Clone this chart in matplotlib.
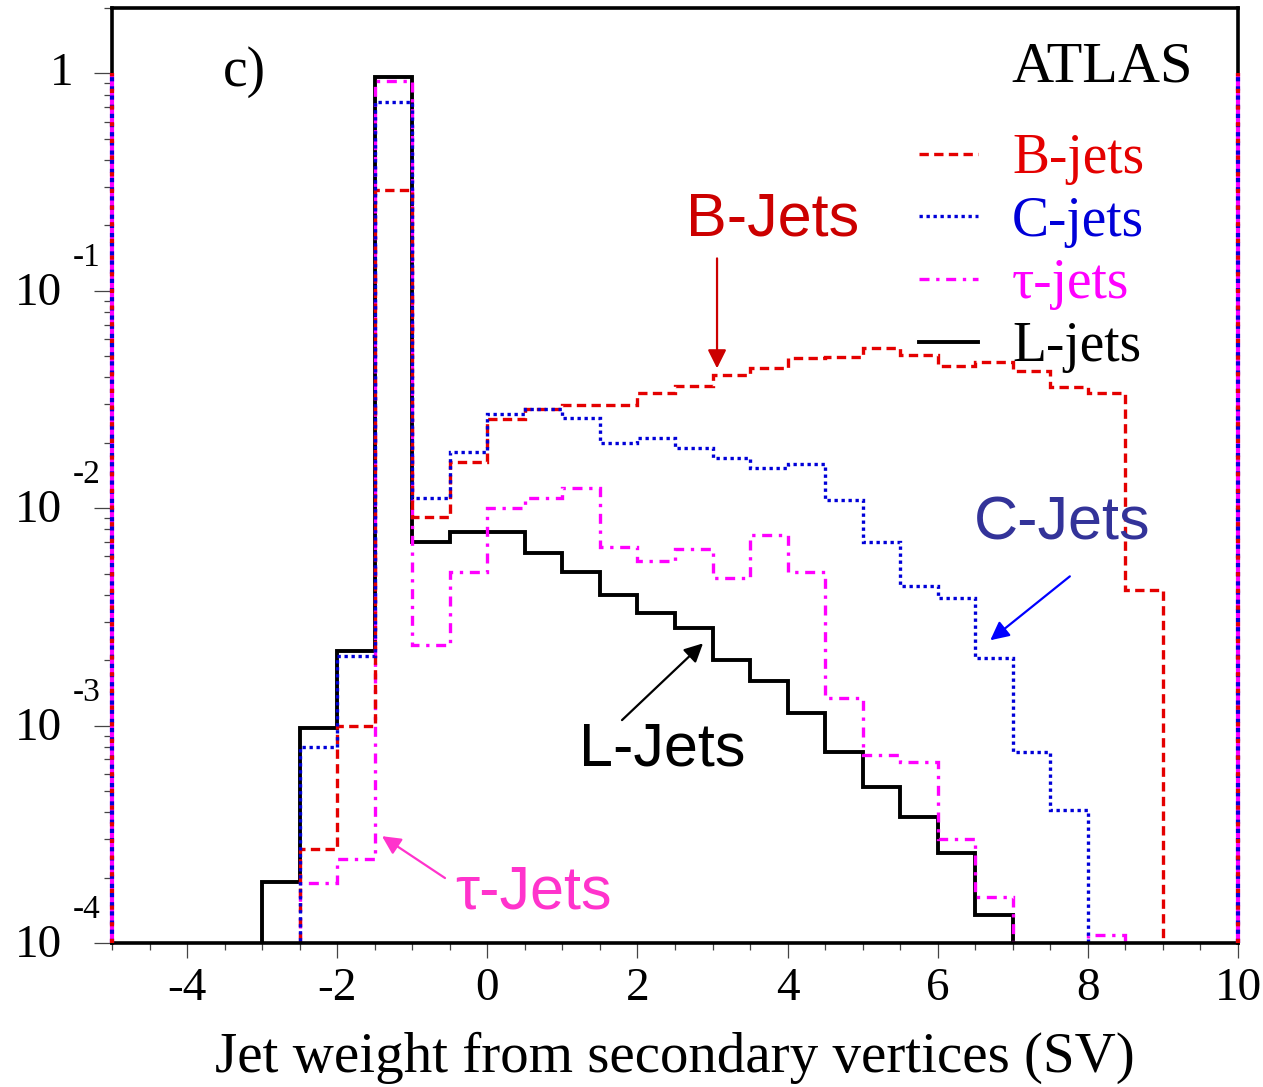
import matplotlib
matplotlib.use("Agg")
import matplotlib.pyplot as plt
import numpy as np

# SV jet weight, bins of 0.5 from -5 to 10
edges = np.arange(-5.0, 10.01, 0.5)

b_jets = [0, 0, 0, 0, 0, 2.7e-4, 1.0e-3, 0.29, 9.1e-3, 1.64e-2,
          2.56e-2, 2.85e-2, 2.98e-2, 2.98e-2, 3.4e-2, 3.64e-2, 4.08e-2, 4.4e-2, 4.9e-2, 4.95e-2,
          5.45e-2, 5.05e-2, 4.5e-2, 4.7e-2, 4.27e-2, 3.6e-2, 3.4e-2, 4.2e-3, 0, 0]
c_jets = [0, 0, 0, 0, 0, 8.0e-4, 2.1e-3, 0.74, 1.12e-2, 1.81e-2,
          2.7e-2, 2.85e-2, 2.6e-2, 2.0e-2, 2.1e-2, 1.89e-2, 1.71e-2, 1.53e-2, 1.6e-2, 1.09e-2,
          7.0e-3, 4.4e-3, 3.85e-3, 2.04e-3, 7.6e-4, 4.1e-4, 0, 0, 0, 0]
tau_jets = [0, 0, 0, 0, 0, 1.89e-4, 2.43e-4, 0.92, 2.34e-3, 5.1e-3,
            1.0e-2, 1.12e-2, 1.24e-2, 6.6e-3, 5.7e-3, 6.5e-3, 4.8e-3, 7.5e-3, 5.1e-3, 1.34e-3,
            7.3e-4, 6.8e-4, 3.0e-4, 1.63e-4, 0, 0, 1.09e-4, 0, 0, 0]
l_jets = [0, 0, 0, 0, 1.9e-4, 9.7e-4, 2.2e-3, 0.96, 7.0e-3, 7.8e-3,
          7.8e-3, 6.2e-3, 5.1e-3, 4.0e-3, 3.3e-3, 2.8e-3, 2.0e-3, 1.6e-3, 1.14e-3, 7.6e-4,
          5.2e-4, 3.8e-4, 2.6e-4, 1.35e-4, 0, 0, 0, 0, 0, 0]
edge_level = 1.0  # under/overflow bars sitting on the frame

labels = ["B-jets", "C-jets", "\u03c4-jets", "L-jets"]
x_ticks = [-4, -2, 0, 2, 4, 6, 8, 10]
y_decades = [1e-4, 1e-3, 1e-2, 1e-1, 1]

RED = "#e40000"
BLUE = "#0000d8"
MAG = "#ff00ff"
SERIF = ["Liberation Serif", "DejaVu Serif"]
SANS = ["Liberation Sans", "DejaVu Sans"]

fig = plt.figure(figsize=(12.63, 10.87), dpi=100)
ax = fig.add_axes([112 / 1263, 1 - 943 / 1087, 1126 / 1263, 935 / 1087])
ax.set_yscale("log", nonpositive="clip")
ax.set_xlim(-5, 10)
ax.set_ylim(1e-4, 2.0)

lw = 2.4
h_b = ax.stairs(b_jets, edges, color=RED, lw=lw, ls=(0, (2.8, 1.6)), label=labels[0], zorder=3)
h_c = ax.stairs(c_jets, edges, color=BLUE, lw=lw, ls=(0, (1, 1.1)), label=labels[1], zorder=4)
h_t = ax.stairs(tau_jets, edges, color=MAG, lw=lw, ls=(0, (3, 2, 1, 2)), label=labels[2], zorder=2)
h_l = ax.stairs(l_jets, edges, color="black", lw=lw + 0.4, label=labels[3], zorder=1)

# colored bars drawn over the left/right frame
ax.vlines([-5, 10], 1e-4, edge_level, color=MAG, lw=3, zorder=5, clip_on=False)
ax.vlines([-5, 10], 1e-4, edge_level, color=BLUE, lw=3, ls=(0, (1, 1.2)), zorder=6, clip_on=False)
ax.vlines([-5, 10], 1e-4, edge_level, color=RED, lw=3, ls=(0, (1, 3)), zorder=6, clip_on=False)

for s in ax.spines.values():
    s.set_linewidth(2.6)
    s.set_zorder(4.5)

ax.set_xticks(x_ticks)
ax.set_xticks(np.arange(-5, 10.01, 0.5), minor=True)
ax.set_xticklabels([str(t) if t >= 0 else "-" + str(-t) for t in x_ticks],
                   fontfamily=SERIF, fontsize=34)
ax.tick_params(axis="x", which="major", direction="out", length=11, width=0.9,
               color="#444444", pad=7)
ax.tick_params(axis="x", which="minor", direction="out", length=5, width=0.9, color="#444444")
ax.tick_params(axis="y", which="major", direction="out", length=13, width=0.9, color="#444444")
ax.tick_params(axis="y", which="minor", direction="out", length=6, width=0.9, color="#444444")
ax.set_yticks(y_decades)
ax.set_yticklabels([])
ax.yaxis.set_minor_locator(matplotlib.ticker.LogLocator(base=10, subs=np.arange(2, 10)))
ax.yaxis.set_minor_formatter(matplotlib.ticker.NullFormatter())

# ROOT style decade labels: "10" with the exponent raised above
for d in y_decades:
    e = int(round(np.log10(d)))
    if e == 0:
        ax.annotate("1", xy=(0, d), xycoords=("axes fraction", "data"), xytext=(-28, 0),
                    textcoords="offset points", ha="right", va="center",
                    fontfamily=SERIF, fontsize=34)
    else:
        ax.annotate("10", xy=(0, d), xycoords=("axes fraction", "data"), xytext=(-36, -2),
                    textcoords="offset points", ha="right", va="center",
                    fontfamily=SERIF, fontsize=34)
        ax.annotate(str(e), xy=(0, d), xycoords=("axes fraction", "data"), xytext=(-28, 24),
                    textcoords="offset points", ha="left", va="center",
                    fontfamily=SERIF, fontsize=24)

fig.text(675 / 1263, 1 - 1058 / 1087, "Jet weight from secondary vertices (SV)",
         ha="center", va="center", fontfamily=SERIF, fontsize=41)

ax.text(0.118, 0.932, "c)", transform=ax.transAxes, ha="center", va="center",
        fontfamily=SERIF, fontsize=40)
ax.text(0.879, 0.936, "ATLAS", transform=ax.transAxes, ha="center", va="center",
        fontfamily=SERIF, fontsize=42)

leg = ax.legend(handles=[h_b, h_c, h_t, h_l], loc="upper left",
                bbox_to_anchor=(0.717, 0.866), frameon=False, borderpad=0, borderaxespad=0,
                handlelength=1.05, handletextpad=0.62, labelspacing=0.19,
                prop={"family": SERIF, "size": 40},
                labelcolor=[RED, BLUE, MAG, "black"])

# callouts
arrow = dict(arrowstyle="-|>", mutation_scale=28, lw=1.6, shrinkA=0, shrinkB=0)
ax.annotate("", xy=(3.06, 0.044), xytext=(3.06, 0.141),
            arrowprops=dict(arrow, color="#cc0000"))
ax.text(3.805, 0.211, "B-Jets", ha="center", va="center", color="#cc0000",
        fontfamily=SANS, fontsize=44)
ax.annotate("", xy=(6.70, 2.47e-3), xytext=(7.76, 4.86e-3),
            arrowprops=dict(arrow, color="#0000ff"))
ax.text(7.655, 8.43e-3, "C-Jets", ha="center", va="center", color="#333399",
        fontfamily=SANS, fontsize=44)
ax.annotate("", xy=(2.873, 2.39e-3), xytext=(1.794, 1.06e-3),
            arrowprops=dict(arrow, color="black"))
ax.text(2.327, 7.7e-4, "L-Jets", ha="center", va="center", color="black",
        fontfamily=SANS, fontsize=44)
ax.annotate("", xy=(-1.403, 3.1e-4), xytext=(-0.564, 1.99e-4),
            arrowprops=dict(arrow, color="#ff33cc"))
ax.text(0.621, 1.7e-4, "\u03c4-Jets", ha="center", va="center", color="#ff33cc",
        fontfamily=SANS, fontsize=44)

fig.savefig("out.png", dpi=100)
